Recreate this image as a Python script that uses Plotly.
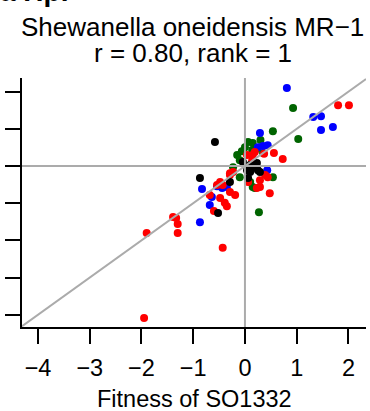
import plotly.graph_objects as go

# Data (fitness values)
green_x = [0.93, 0.54, 1.03, 0.06, 0.15, 0.00, -0.15, -0.06, 0.35, -0.23, -0.10, 0.10, 0.15, 0.19, 0.54, 0.27, 0.14, -0.10, 0.22, 0.30]
green_y = [1.56, 0.94, 0.73, 0.65, 0.62, 0.51, 0.30, 0.40, 0.35, -0.03, -0.30, -0.43, -0.56, -0.59, -0.30, -1.24, 0.43, 0.16, 0.46, 0.70]

blue_x = [0.81, 1.32, 1.47, 1.47, 1.70, 0.29, 0.35, 0.25, 0.44, 0.43, -0.83, -0.54, -0.44, -0.35, -0.64, -0.68, -0.87]
blue_y = [2.10, 1.32, 1.34, 0.97, 1.05, 0.89, 0.54, 0.51, 0.56, -0.11, -0.62, -0.54, -0.59, -0.56, -0.83, -1.05, -1.51]

red_x = [1.80, 2.01, 0.56, 0.73, 0.04, 0.15, 0.19, 0.37, 0.14, -0.23, -0.29, 0.29, 0.39, 0.44, 0.29, 0.23,
         0.06, 0.48, -0.19, -0.48, -0.54, -0.43, -0.68, -0.48, -0.39, -0.35, -0.60, -0.29, -1.39, -1.33,
         -1.30, -1.30, -1.90, -0.43, -1.95, -0.29]
red_y = [1.64, 1.64, 0.35, 0.19, 0.30, 0.30, 0.38, 0.33, 0.16, -0.16, -0.24, -0.38, -0.24, -0.30, -0.56, -0.59,
         -0.43, -0.73, -0.78, -0.43, -0.51, -0.51, -0.78, -0.86, -0.99, -1.08, -1.21, -0.70, -1.37, -1.40,
         -1.56, -1.80, -1.80, -2.20, -4.09, -0.19]

black_x = [-0.58, -0.87, -0.29, -0.52, -0.04, 0.15, 0.25, 0.10, 0.04, 0.23, 0.06, 0.29, 0.10]
black_y = [0.65, -0.32, -0.43, -1.26, 0.11, -0.03, -0.11, -0.16, -0.11, 0.08, -0.32, -0.16, 0.03]

x_ticks = [-4, -3, -2, -1, 0, 1, 2]
y_ticks = [-4, -3, -2, -1, 0, 1, 2]
x_range = [-4.31, 2.34]
y_range = [-4.33, 2.37]

title1 = "Shewanella oneidensis MR\u22121"
title2 = "r = 0.80, rank = 1"
x_title = "Fitness of SO1332"
top_label = "a Hp."

FONT = "Liberation Sans, Arial, sans-serif"

fig = go.Figure()
for xs, ys, col in [(green_x, green_y, "#006400"), (blue_x, blue_y, "#0000FF"),
                    (red_x, red_y, "#FF0000"), (black_x, black_y, "#000000")]:
    fig.add_trace(go.Scatter(x=xs, y=ys, mode="markers",
                             marker=dict(size=8, color=col, line=dict(width=0)),
                             showlegend=False, hoverinfo="skip"))

gray = "#ABABAB"
fig.add_shape(type="line", xref="paper", yref="y", x0=0, x1=1, y0=0, y1=0,
              line=dict(color=gray, width=2), layer="above")
fig.add_shape(type="line", xref="x", yref="paper", x0=0, x1=0, y0=0, y1=1,
              line=dict(color=gray, width=2), layer="above")
fig.add_shape(type="line", xref="x", yref="y", x0=-4.31, y0=-4.31, x1=2.34, y1=2.34,
              line=dict(color=gray, width=2), layer="above")

W, H = 370, 411
L, R, T, B = 22, 4, 78, 84
ph = H - T - B
pw = W - L - R

def py(pix):
    return (H - B - pix) / ph

def px(pix):
    return (pix - L) / pw

fig.update_layout(
    width=W, height=H,
    margin=dict(l=L, r=R, t=T, b=B, pad=0),
    paper_bgcolor="white", plot_bgcolor="white",
    font=dict(family=FONT, color="black", size=23.5),
    xaxis=dict(range=x_range, tickvals=x_ticks, ticks="outside", ticklen=15, tickwidth=2,
               tickcolor="black", showline=True, linecolor="black", linewidth=2,
               showgrid=False, zeroline=False, tickfont=dict(size=23.5, family=FONT),
               ticklabelstandoff=4),
    yaxis=dict(range=y_range, tickvals=y_ticks, ticks="outside", ticklen=15, tickwidth=2,
               tickcolor="black", showline=True, linecolor="black", linewidth=2,
               showgrid=False, zeroline=False, showticklabels=False),
    annotations=[
        dict(text=title1, xref="paper", yref="paper", x=px(192.5), y=py(27), xanchor="center",
             yanchor="middle", showarrow=False, font=dict(size=26, family=FONT)),
        dict(text=title2, xref="paper", yref="paper", x=px(193), y=py(52.5), xanchor="center",
             yanchor="middle", showarrow=False, font=dict(size=26, family=FONT)),
        dict(text=x_title, xref="paper", yref="paper", x=px(194.5), y=py(398.5), xanchor="center",
             yanchor="middle", showarrow=False, font=dict(size=23.5, family=FONT)),
        dict(text="<b>" + top_label + "</b>", xref="paper", yref="paper", x=px(-2),
             y=py(-9), xanchor="left", yanchor="middle", showarrow=False,
             font=dict(size=28, family=FONT)),
    ],
)

fig.write_html("out.html")
